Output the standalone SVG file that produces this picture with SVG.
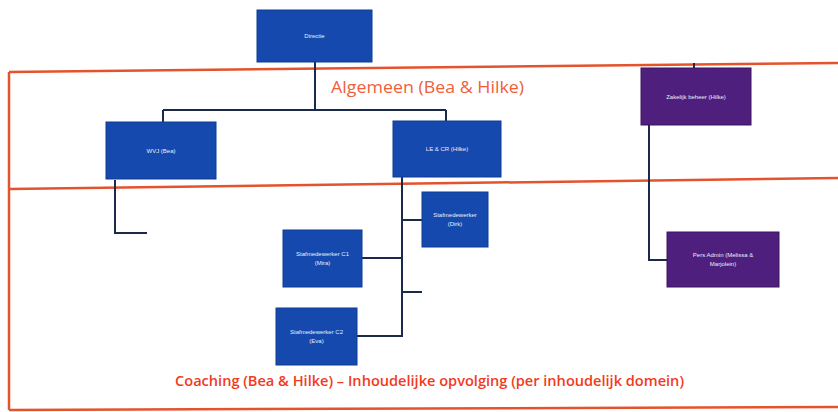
<svg xmlns="http://www.w3.org/2000/svg" width="838" height="412" viewBox="0 0 838 412">
<style>
.blue{fill:#1549ad;stroke:#0f3d94;stroke-width:1}
.purple{fill:#4f1f7e;stroke:#3d165f;stroke-width:1}
.lbl{font-family:"Liberation Sans",Arial,sans-serif;font-size:6px;fill:#e8eefc;text-anchor:middle}
.frame{stroke:#e4532c;stroke-width:2.5;fill:none}
.conn path{stroke:#1c2a4a;stroke-width:2;fill:none}
.title{font-family:"Open Sans","Liberation Sans",sans-serif;fill:#f0603c}
</style>
<rect width="838" height="412" fill="#ffffff"/>
<g id="frame">
<path class="frame" d="M9,72 L838,63"/>
<path class="frame" d="M9,189 L838,178"/>
<path class="frame" d="M9,410 L838,407"/>
<path class="frame" d="M9,72 L9,410"/>
</g>
<g class="conn" id="connectors">
<path d="M315,62 V110 M163,110 H446 M163,110 V122 M446,110 V122"/>
<path d="M115,180 V233 H147"/>
<path d="M402,177 V337"/>
<path d="M402,220 H422 M362,258 H402 M402,292 H422 M357,336 H402"/>
<path d="M694,63 V68"/>
<path d="M649,125 V260 H667"/>
</g>
<g id="n-top"><rect class="blue" x="257" y="10" width="115" height="52"/><text class="lbl" x="314.5" y="38">Directie</text></g>
<g id="n-wvj"><rect class="blue" x="106" y="122" width="110" height="57"/><text class="lbl" x="161" y="153">WVJ (Bea)</text></g>
<g id="n-clb"><rect class="blue" x="393" y="121" width="108" height="56"/><text class="lbl" x="447" y="151">LE &amp; CR (Hilke)</text></g>
<g id="n-zak"><rect class="purple" x="641" y="68" width="110" height="57"/><text class="lbl" x="696" y="99">Zakelijk beheer (Hilke)</text></g>
<g id="n-dirk"><rect class="blue" x="422" y="192" width="66" height="55"/><text class="lbl" x="455" y="217">Stafmedewerker</text><text class="lbl" x="455" y="226">(Dirk)</text></g>
<g id="n-mira"><rect class="blue" x="283" y="230" width="79" height="57"/><text class="lbl" x="322.5" y="256">Stafmedewerker C1</text><text class="lbl" x="322.5" y="265">(Mira)</text></g>
<g id="n-eva"><rect class="blue" x="276" y="308" width="81" height="57"/><text class="lbl" x="316.5" y="334">Stafmedewerker C2</text><text class="lbl" x="316.5" y="343">(Eva)</text></g>
<g id="n-pers"><rect class="purple" x="667" y="232" width="112" height="55"/><text class="lbl" x="723" y="257">Pers Admin (Melissa &amp;</text><text class="lbl" x="723" y="266">Marjolein)</text></g>
<text class="title" x="331" y="93" font-size="17" textLength="193" lengthAdjust="spacingAndGlyphs">Algemeen (Bea &amp; Hilke)</text>
<text class="title" x="175" y="386" font-size="14" fill="#f23a1c" style="fill:#f23a1c;font-weight:600" textLength="509" lengthAdjust="spacingAndGlyphs">Coaching  (Bea &amp; Hilke)  – Inhoudelijke opvolging (per inhoudelijk domein)</text>
</svg>
